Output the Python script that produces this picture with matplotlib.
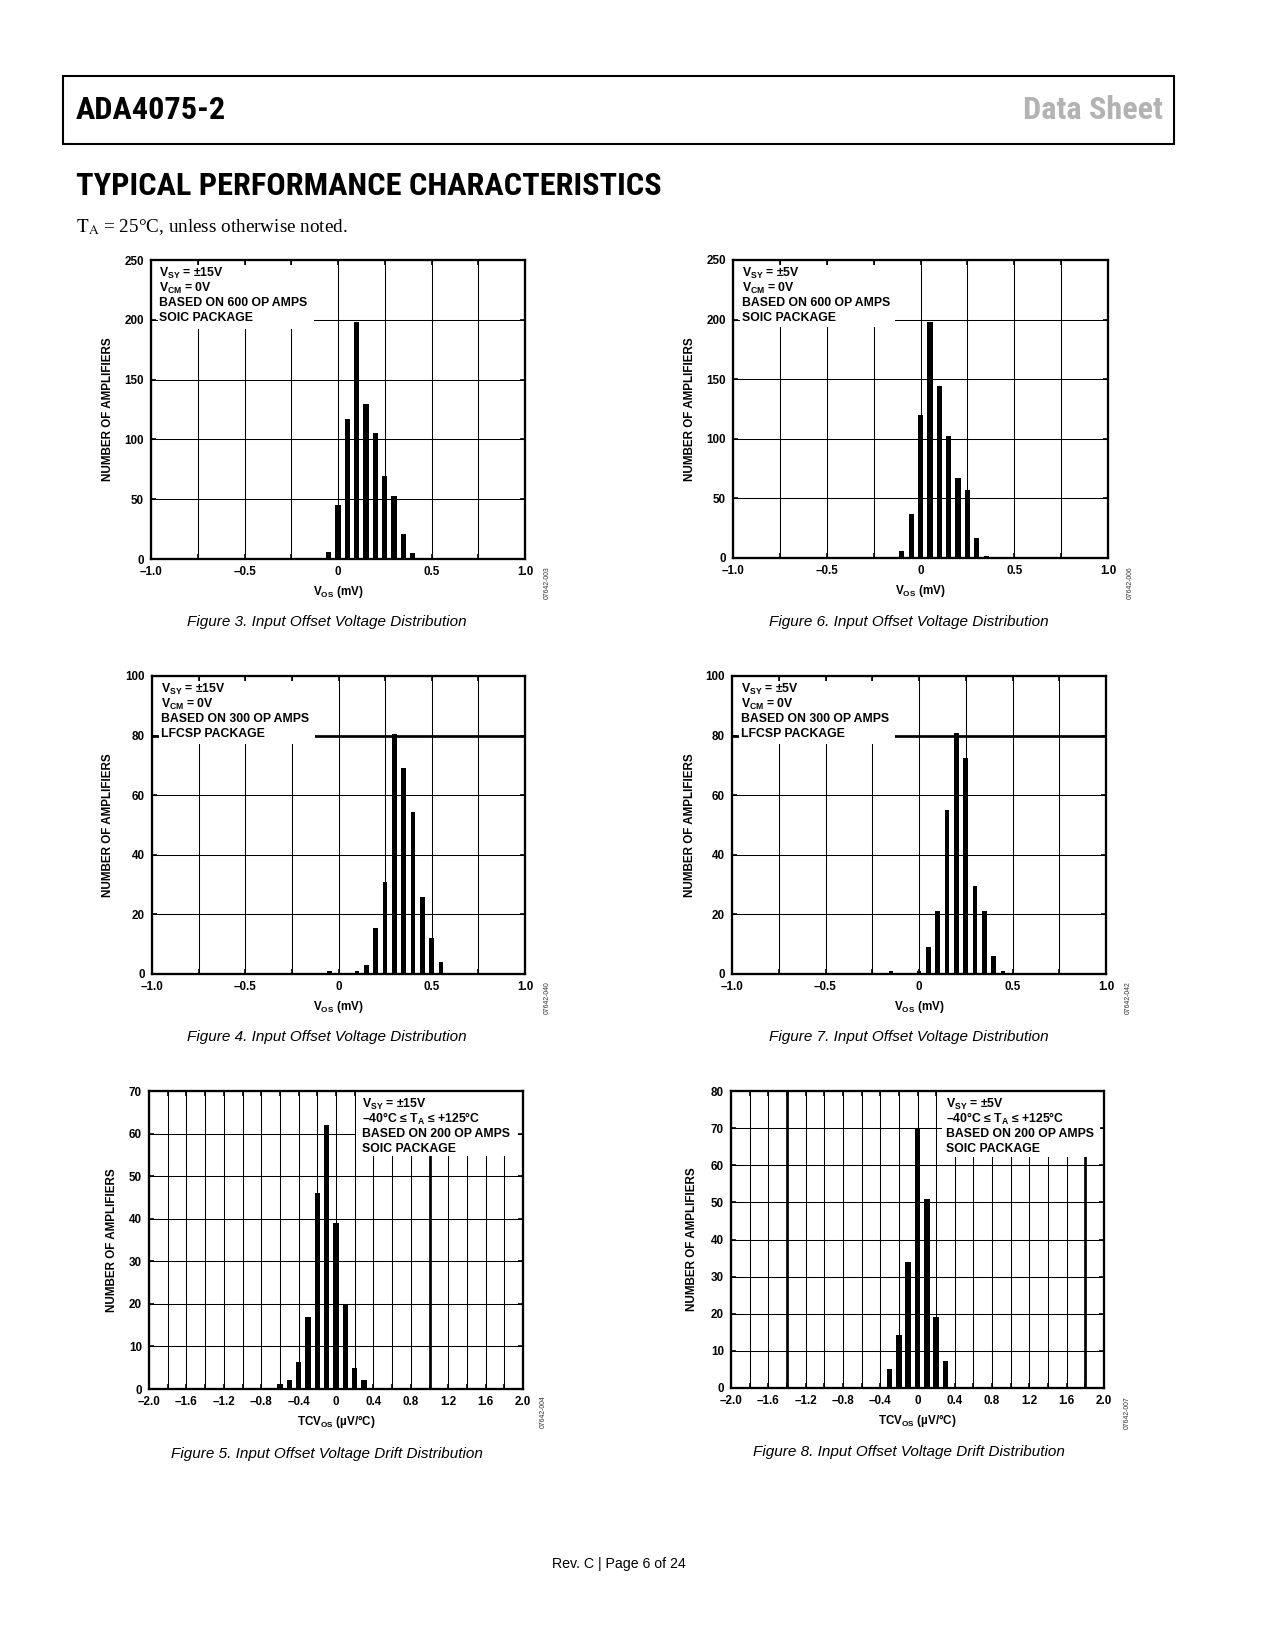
import numpy as np
import matplotlib
matplotlib.use('Agg')
import matplotlib.pyplot as plt
from matplotlib.patches import Rectangle
from matplotlib.ticker import MultipleLocator

plt.rcParams['font.family'] = ['Liberation Sans', 'DejaVu Sans']
plt.rcParams['mathtext.fontset'] = 'custom'
plt.rcParams['mathtext.rm'] = 'Liberation Sans:bold'
plt.rcParams['mathtext.bf'] = 'Liberation Sans:bold'
plt.rcParams['mathtext.it'] = 'Liberation Sans:bold'

COND = ['Roboto Condensed', 'DejaVu Sans']

# histogram data
fig3_x = [-0.05, 0.0, 0.05, 0.10, 0.15, 0.20, 0.25, 0.30, 0.35, 0.40]
fig3_n = [6, 45, 117, 198, 130, 105, 69, 53, 21, 5]

fig6_x = [-0.10, -0.05, 0.0, 0.05, 0.10, 0.15, 0.20, 0.25, 0.30, 0.35]
fig6_n = [6, 37, 120, 198, 144, 102, 67, 57, 17, 2]

fig4_x = [-0.05, 0.10, 0.15, 0.20, 0.25, 0.30, 0.35, 0.40, 0.45, 0.50, 0.55]
fig4_n = [1, 1, 3, 15.5, 31, 80.5, 69, 54.5, 26, 12, 4]

fig7_x = [-0.15, 0.0, 0.05, 0.10, 0.15, 0.20, 0.25, 0.30, 0.35, 0.40, 0.45]
fig7_n = [1, 1, 9, 21, 55, 81, 72.5, 29.5, 21, 6, 1]

fig5_x = [-0.6, -0.5, -0.4, -0.3, -0.2, -0.1, 0.0, 0.1, 0.2, 0.3]
fig5_n = [1.2, 2, 6.3, 17, 46, 62, 39, 20, 5, 2]

fig8_x = [-0.3, -0.2, -0.1, 0.0, 0.1, 0.2, 0.3]
fig8_n = [5.2, 14.3, 34, 70, 51, 19.2, 7.3]

notes_15 = [r'$\mathrm{V_{SY}}$ = ±15V', r'$\mathrm{V_{CM}}$ = 0V']
notes_5 = [r'$\mathrm{V_{SY}}$ = ±5V', r'$\mathrm{V_{CM}}$ = 0V']

W, H = 1275, 1650
fig = plt.figure(figsize=(W / 150, H / 150), dpi=150)


def make_axes(x0, y0, x1, y1):
    return fig.add_axes([x0 / W, 1 - y1 / H, (x1 - x0) / W, (y1 - y0) / H])


charts = [
    dict(box=(151, 260, 525, 559), x=fig3_x, n=fig3_n, ymax=250, ystep=50,
         xmin=-1.0, xmax=1.0, xmaj=0.5, xgrid=0.25, w=0.028,
         xlabel=r'$\mathrm{V_{OS}}$ (mV)',
         notes=notes_15 + ['BASED ON 600 OP AMPS', 'SOIC PACKAGE'],
         note_box=(0.018, 0.769, 0.436, 0.982), note_x=0.021, ylab_x=-0.115,
         thick_x=[], thick_y=[], tag='07642-003', tag_xy=(547, 583),
         caption='Figure 3. Input Offset Voltage Distribution', cap_xy=(327, 622)),
    dict(box=(733, 260, 1108, 558), x=fig6_x, n=fig6_n, ymax=250, ystep=50,
         xmin=-1.0, xmax=1.0, xmaj=0.5, xgrid=0.25, w=0.028,
         xlabel=r'$\mathrm{V_{OS}}$ (mV)',
         notes=notes_5 + ['BASED ON 600 OP AMPS', 'SOIC PACKAGE'],
         note_box=(0.018, 0.775, 0.432, 0.982), note_x=0.024, ylab_x=-0.115,
         thick_x=[], thick_y=[], tag='07642-006', tag_xy=(1130, 583),
         caption='Figure 6. Input Offset Voltage Distribution', cap_xy=(909, 622)),
    dict(box=(152, 676, 525, 974), x=fig4_x, n=fig4_n, ymax=100, ystep=20,
         xmin=-1.0, xmax=1.0, xmaj=0.5, xgrid=0.25, w=0.025,
         xlabel=r'$\mathrm{V_{OS}}$ (mV)',
         notes=notes_15 + ['BASED ON 300 OP AMPS', 'LFCSP PACKAGE'],
         note_box=(0.018, 0.772, 0.437, 0.982), note_x=0.024, ylab_x=-0.118,
         thick_x=[], thick_y=[80], tag='07642-040', tag_xy=(547, 998),
         caption='Figure 4. Input Offset Voltage Distribution', cap_xy=(327, 1037)),
    dict(box=(732, 676, 1106, 974), x=fig7_x, n=fig7_n, ymax=100, ystep=20,
         xmin=-1.0, xmax=1.0, xmaj=0.5, xgrid=0.25, w=0.025,
         xlabel=r'$\mathrm{V_{OS}}$ (mV)',
         notes=notes_5 + ['BASED ON 300 OP AMPS', 'LFCSP PACKAGE'],
         note_box=(0.018, 0.772, 0.437, 0.982), note_x=0.024, ylab_x=-0.112,
         thick_x=[], thick_y=[80], tag='07642-042', tag_xy=(1128, 998),
         caption='Figure 7. Input Offset Voltage Distribution', cap_xy=(909, 1037)),
    dict(box=(149, 1091, 523, 1389), x=fig5_x, n=fig5_n, ymax=70, ystep=10,
         xmin=-2.0, xmax=2.0, xmaj=0.4, xgrid=0.2, w=0.057,
         xlabel=r'$\mathrm{TCV_{OS}}$ (µV/°C)',
         notes=[r'$\mathrm{V_{SY}}$ = ±15V', r'–40°C ≤ $\mathrm{T_A}$ ≤ +125°C',
                'BASED ON 200 OP AMPS', 'SOIC PACKAGE'],
         note_box=(0.553, 0.782, 0.987, 1.0), note_x=0.570, ylab_x=-0.099,
         thick_x=[1.0], thick_y=[], tag='07642-004', tag_xy=(543, 1412),
         caption='Figure 5. Input Offset Voltage Drift Distribution', cap_xy=(327, 1454)),
    dict(box=(731, 1091, 1104, 1388), x=fig8_x, n=fig8_n, ymax=80, ystep=10,
         xmin=-2.0, xmax=2.0, xmaj=0.4, xgrid=0.2, w=0.058,
         xlabel=r'$\mathrm{TCV_{OS}}$ (µV/°C)',
         notes=[r'$\mathrm{V_{SY}}$ = ±5V', r'–40°C ≤ $\mathrm{T_A}$ ≤ +125°C',
                'BASED ON 200 OP AMPS', 'SOIC PACKAGE'],
         note_box=(0.566, 0.778, 0.989, 1.0), note_x=0.576, ylab_x=-0.105,
         thick_x=[-1.4, 1.8], thick_y=[], tag='07642-007', tag_xy=(1127, 1413),
         caption='Figure 8. Input Offset Voltage Drift Distribution', cap_xy=(909, 1452)),
]

for c in charts:
    ax = make_axes(*c['box'])
    ax.set_axisbelow(True)
    ticks = np.round(np.arange(c['xmin'], c['xmax'] + 1e-9, c['xmaj']), 2)
    ax.set_xticks(ticks)
    ax.set_xticklabels(['0' if abs(t) < 1e-9 else f'{t:.1f}'.replace('-', '\u2013')
                        for t in ticks])
    ax.xaxis.set_minor_locator(MultipleLocator(c['xgrid']))
    ax.yaxis.set_major_locator(MultipleLocator(c['ystep']))
    ax.set_xlim(c['xmin'], c['xmax'])
    ax.set_ylim(0, c['ymax'])
    ax.grid(True, which='both', axis='x', color='black', lw=0.5)
    ax.grid(True, which='major', axis='y', color='black', lw=0.5)
    for xv in c['thick_x']:
        ax.axvline(xv, color='black', lw=1.3, zorder=0.6)
    for yv in c['thick_y']:
        ax.axhline(yv, color='black', lw=1.3, zorder=0.6)

    ax.bar(c['x'], c['n'], width=c['w'], color='black', zorder=3)

    ax.tick_params(which='both', direction='in', length=2.5, width=0.8,
                   labelsize=5.6, pad=3.4, left=True, right=True, bottom=True, top=True)
    for lab in ax.get_xticklabels() + ax.get_yticklabels():
        lab.set_fontweight('bold')
    for sp in ax.spines.values():
        sp.set_linewidth(1.1)

    bx0, by0, bx1, by1 = c['note_box']
    ax.add_patch(Rectangle((bx0, by0), bx1 - bx0, by1 - by0, transform=ax.transAxes,
                           facecolor='white', edgecolor='none', zorder=1))
    for i, line in enumerate(c['notes']):
        ax.text(c['note_x'], 0.943 - i * 0.049, line, transform=ax.transAxes,
                fontsize=5.9, fontweight='bold', va='baseline', ha='left', zorder=4)

    ax.text(c['ylab_x'], 0.5, 'NUMBER OF AMPLIFIERS', transform=ax.transAxes,
            rotation=90, ha='center', va='center', fontsize=5.6, fontweight='bold')
    ax.text(0.5, -0.110, c['xlabel'], transform=ax.transAxes, ha='center', va='center',
            fontsize=5.6, fontweight='bold')

    fig.text(c['tag_xy'][0] / W, 1 - c['tag_xy'][1] / H, c['tag'], rotation=90,
             ha='center', va='center', fontsize=3.3, color='#333333')
    fig.text(c['cap_xy'][0] / W, 1 - c['cap_xy'][1] / H, c['caption'],
             ha='center', va='center', fontsize=7.3, style='italic')

# page header
fig.add_artist(Rectangle((63 / W, 1 - 144 / H), (1174 - 63) / W, (144 - 76) / H,
                         transform=fig.transFigure, fill=False, lw=1.0, edgecolor='black'))
fig.text(76 / W, 1 - 110 / H, 'ADA4075-2', ha='left', va='center', fontsize=15.5,
         fontweight='bold', family=COND)
fig.text(1163 / W, 1 - 110 / H, 'Data Sheet', ha='right', va='center', fontsize=15.5,
         fontweight='bold', family=COND, color='#b3b3b3')
fig.text(76 / W, 1 - 186 / H, 'TYPICAL PERFORMANCE CHARACTERISTICS', ha='left',
         va='center', fontsize=15.5, fontweight='bold', family=COND)
fig.text(76 / W, 1 - 227 / H, r'$\mathrm{T_A}$ = 25°C, unless otherwise noted.',
         ha='left', va='center', fontsize=9.2, family=['Liberation Serif', 'DejaVu Serif'],
         math_fontfamily='stix')
fig.text(619 / W, 1 - 1564 / H, 'Rev. C | Page 6 of 24', ha='center', va='center',
         fontsize=6.8)

fig.savefig('out.png', dpi=150)
